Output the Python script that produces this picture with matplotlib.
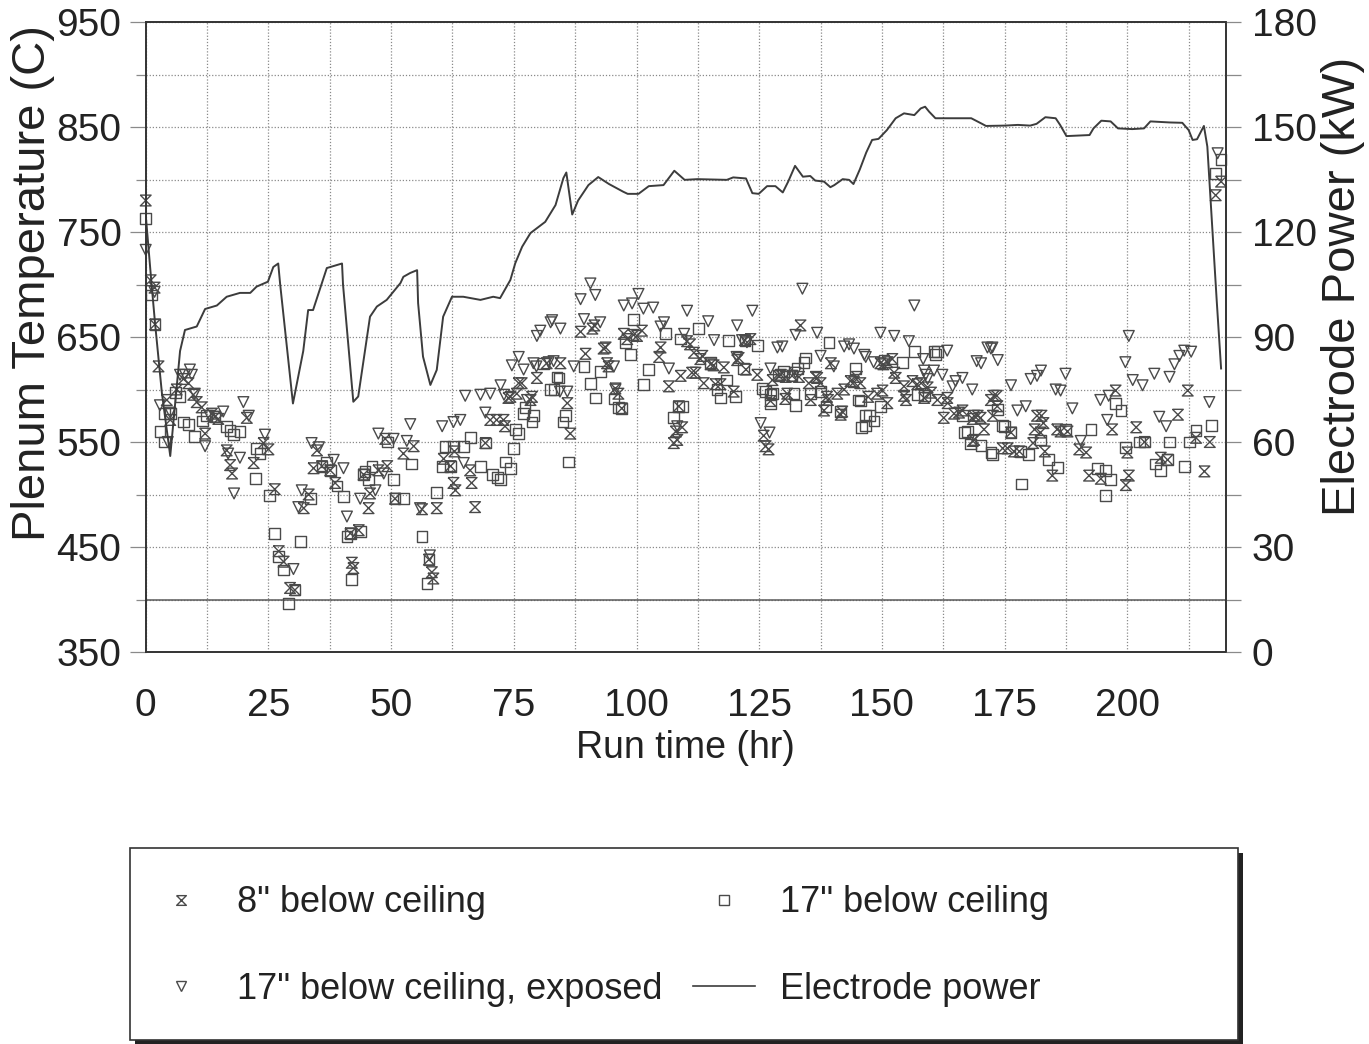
import numpy as np
import matplotlib
matplotlib.use("Agg")
import matplotlib.pyplot as plt
from matplotlib.lines import Line2D
from matplotlib.patches import Rectangle
from matplotlib import font_manager

# ---- data (run time hr, temperature C / power kW) ----
below_8in = [
    (0, 780), (1.0, 704), (1.8, 697), (1.9, 662), (2.6, 622), (4.3, 590), (5.0, 571), (6.3, 600),
    (7.7, 610), (8.7, 606), (9.7, 595), (10.4, 588), (11.4, 583), (12.1, 558), (13.5, 577), (14.1, 574),
    (14.8, 572), (16.5, 542), (17.2, 528), (17.6, 520), (20.6, 573), (22.0, 530), (24.0, 549), (25.0, 543),
    (26.3, 505), (27.1, 446), (28.1, 436), (29.4, 411), (30.4, 409), (32.2, 487), (33.2, 500), (34.2, 525),
    (34.9, 542), (35.9, 527), (37.6, 523), (38.6, 511), (41.7, 463), (42.0, 435), (42.3, 430), (43.4, 466),
    (44.4, 519), (45.4, 487), (45.7, 501), (47.4, 523), (48.8, 553), (49.2, 527), (50.8, 496), (52.5, 539),
    (54.6, 546), (56.3, 486), (57.7, 438), (58.3, 426), (58.6, 420), (59.3, 487), (60.7, 534), (62.1, 527),
    (62.7, 511), (62.9, 541), (63.1, 504), (66.1, 523), (66.4, 511), (67.1, 488), (69.2, 549), (70.2, 571),
    (71.5, 571), (72.9, 571), (73.2, 565), (73.9, 592), (74.3, 593), (75.6, 596), (76.0, 606), (76.6, 606),
    (78.4, 590), (78.7, 593), (79.7, 611), (81.7, 625), (84.5, 625), (85.9, 587), (86.5, 558), (88.6, 655),
    (89.6, 634), (91.0, 658), (91.4, 661), (93.3, 639), (93.7, 640), (94.0, 625), (94.3, 622), (95.7, 601),
    (96.3, 596), (97.0, 582), (97.4, 653), (98.1, 648), (99.4, 652), (100.1, 651), (101.1, 656), (104.6, 631),
    (104.9, 640), (106.6, 603), (107.6, 549), (108.0, 560), (108.3, 552), (108.6, 584), (109.0, 613),
    (109.3, 564), (110.3, 646), (110.9, 643), (111.3, 616), (111.7, 635), (112.0, 616), (113.0, 629),
    (113.4, 632), (113.7, 606), (115.1, 624), (115.7, 623), (116.1, 605), (117.1, 605), (117.8, 621),
    (119.8, 598), (120.5, 628), (120.8, 630), (122.1, 647), (122.3, 619), (123.2, 648), (124.6, 614),
    (125.9, 556), (126.3, 546), (126.9, 543), (127.3, 589), (127.7, 609), (129.0, 613), (129.4, 614),
    (130.3, 591), (130.4, 612), (130.7, 596), (131.7, 613), (133.1, 612), (133.4, 661), (135.1, 606),
    (135.5, 590), (136.5, 612), (136.8, 611), (137.5, 606), (138.2, 580), (138.8, 593), (139.0, 590),
    (139.6, 625), (140.9, 596), (141.6, 576), (141.9, 579), (142.3, 600), (143.6, 608), (144.3, 607),
    (144.9, 612), (145.6, 606), (147.2, 593), (149.0, 596), (149.7, 625), (150.1, 599), (150.3, 624),
    (151.1, 626), (151.1, 587), (152.1, 629), (152.5, 616), (152.8, 611), (154.5, 594), (154.5, 603),
    (154.9, 590), (156.2, 608), (157.2, 605), (158.0, 606), (158.6, 592), (159.3, 602), (160.0, 597),
    (161.3, 590), (162.6, 573), (163.3, 592), (163.4, 587), (164.7, 577), (165.7, 578), (166.4, 580),
    (168.5, 572), (168.5, 551), (168.8, 575), (168.8, 552), (169.5, 575), (170.1, 573), (170.8, 562),
    (172.2, 590), (172.6, 575), (172.8, 594), (173.4, 594), (173.5, 584), (174.6, 544), (175.6, 544),
    (176.3, 559), (176.9, 541), (178.0, 541), (180.8, 549), (181.1, 562), (181.6, 575), (182.3, 559),
    (182.5, 575), (182.9, 568), (183.2, 541), (184.7, 518), (185.7, 562), (186.4, 560), (187.8, 560),
    (190.2, 543), (191.6, 540), (192.2, 518), (194.6, 515), (196.9, 562), (197.6, 599), (199.7, 509),
    (200.0, 540), (200.3, 518), (201.8, 564), (203.5, 550), (206.8, 535), (208.2, 533), (210.3, 576),
    (212.3, 599), (214.0, 554), (215.7, 522), (216.8, 550), (218.0, 785), (219.1, 798),
]

below_17in = [
    (0, 763), (1.2, 690), (1.9, 662), (2.9, 560), (3.9, 550), (3.9, 577), (5.0, 577), (6.0, 597),
    (7.0, 593), (7.7, 569), (8.7, 567), (10.0, 555), (11.5, 570), (12.4, 575), (14.1, 574), (16.5, 565),
    (17.2, 561), (17.9, 557), (19.2, 560), (22.3, 515), (22.6, 544), (23.3, 539), (25.3, 499), (26.3, 463),
    (27.1, 441), (28.1, 428), (29.1, 396), (30.4, 409), (31.5, 455), (33.5, 496), (35.9, 527), (36.9, 531),
    (37.6, 523), (39.0, 508), (40.3, 498), (41.0, 460), (41.7, 463), (42.0, 419), (43.7, 465), (44.4, 519),
    (44.7, 522), (45.4, 514), (46.1, 527), (49.2, 550), (50.5, 514), (50.8, 496), (52.5, 496), (54.2, 529),
    (56.3, 460), (57.3, 415), (57.7, 438), (59.3, 502), (60.4, 527), (61.0, 546), (62.1, 527), (62.7, 546),
    (64.8, 546), (66.1, 554), (68.2, 527), (69.2, 549), (70.7, 519), (71.7, 516), (72.3, 514), (73.3, 531),
    (74.3, 525), (75.0, 544), (75.3, 562), (76.0, 558), (77.0, 577), (77.3, 583), (78.7, 569), (79.0, 575),
    (81.1, 625), (82.5, 600), (83.2, 600), (83.8, 612), (84.2, 611), (85.0, 569), (85.5, 575), (86.1, 531),
    (89.3, 622), (90.6, 606), (91.6, 592), (92.6, 617), (95.4, 591), (96.4, 583), (97.0, 582), (97.8, 645),
    (98.7, 633), (99.4, 667), (101.4, 605), (102.5, 619), (105.9, 653), (107.6, 573), (108.6, 584),
    (109.0, 648), (109.3, 584), (112.7, 658), (115.1, 626), (116.4, 600), (117.1, 592), (118.4, 609),
    (118.8, 647), (120.2, 593), (121.8, 620), (122.1, 647), (124.6, 642), (125.6, 601), (126.3, 598),
    (127.3, 595), (127.3, 587), (127.7, 596), (129.0, 613), (130.0, 617), (131.7, 613), (132.1, 596),
    (132.4, 585), (132.8, 620), (134.1, 626), (134.5, 630), (135.5, 596), (137.5, 598), (138.6, 584),
    (139.2, 645), (141.6, 579), (144.6, 620), (145.3, 590), (145.7, 589), (145.9, 564), (146.6, 575),
    (146.7, 566), (147.4, 575), (148.4, 570), (149.7, 584), (150.4, 628), (154.2, 626), (156.6, 636),
    (157.3, 595), (158.6, 594), (160.6, 636), (160.9, 633), (161.3, 636), (166.4, 575), (166.9, 559),
    (167.4, 560), (168.1, 548), (170.2, 547), (172.2, 540), (172.5, 538), (173.6, 581), (174.6, 566),
    (174.9, 565), (176.3, 559), (178.3, 541), (178.5, 510), (179.9, 538), (182.3, 552), (184.0, 533),
    (185.7, 526), (187.4, 562), (192.6, 562), (193.9, 525), (195.5, 523), (195.6, 499), (196.5, 514),
    (197.6, 587), (198.7, 580), (199.7, 545), (202.5, 550), (203.5, 550), (205.8, 529), (206.8, 523),
    (208.2, 533), (208.6, 550), (211.6, 527), (212.6, 550), (214.0, 561), (217.1, 566), (218.0, 806),
    (219.1, 819),
]

below_17in_exposed = [
    (0, 733), (1.8, 693), (2.9, 585), (4.5, 550), (5.0, 578), (7.0, 614), (8.0, 614), (9.0, 619),
    (9.4, 614), (10.0, 596), (12.1, 546), (13.0, 575), (15.8, 579), (16.8, 539), (18.0, 501), (19.2, 535),
    (19.9, 588), (21.0, 575), (24.3, 557), (30.1, 429), (31.1, 488), (31.8, 504), (33.8, 549), (35.3, 545),
    (38.3, 533), (40.3, 525), (41.0, 479), (43.7, 496), (46.8, 504), (47.4, 558), (48.5, 520), (50.5, 553),
    (53.2, 551), (53.9, 567), (55.9, 487), (57.9, 442), (60.4, 565), (62.7, 569), (64.1, 571), (64.8, 530),
    (65.1, 594), (68.2, 595), (69.2, 578), (70.2, 596), (72.3, 604), (73.0, 595), (74.6, 623), (76.0, 631),
    (77.0, 619), (77.7, 590), (79.0, 625), (79.6, 622), (79.7, 651), (80.4, 656), (82.1, 626), (82.5, 664),
    (82.8, 666), (83.1, 627), (84.4, 598), (84.5, 658), (85.9, 598), (87.2, 622), (88.6, 686), (89.3, 667),
    (90.6, 701), (91.6, 690), (92.6, 664), (95.4, 622), (95.7, 600), (97.4, 680), (99.1, 682), (100.4, 691),
    (101.4, 677), (103.4, 678), (104.9, 660), (105.6, 664), (106.6, 620), (108.3, 565), (109.7, 653),
    (110.3, 675), (114.6, 665), (115.8, 647), (120.4, 631), (120.5, 661), (121.5, 647), (122.5, 645),
    (123.6, 675), (125.3, 568), (127.1, 559), (127.3, 620), (128.7, 640), (129.7, 641), (132.4, 652),
    (132.4, 616), (133.8, 696), (136.8, 654), (137.5, 632), (140.2, 622), (142.3, 641), (143.3, 643),
    (144.3, 639), (146.4, 633), (146.7, 631), (148.3, 626), (149.7, 654), (152.5, 651), (155.5, 646),
    (156.6, 680), (158.4, 629), (158.6, 618), (158.9, 614), (159.3, 610), (160.6, 618), (162.3, 614),
    (163.3, 637), (164.4, 603), (165.0, 608), (166.4, 611), (168.4, 600), (169.3, 627), (170.2, 625),
    (171.5, 640), (172.2, 639), (172.5, 640), (173.6, 628), (176.3, 604), (177.6, 580), (179.3, 584),
    (180.3, 610), (181.6, 613), (182.4, 618), (185.4, 600), (186.4, 599), (187.4, 615), (188.8, 582),
    (190.5, 551), (194.5, 590), (195.9, 571), (196.2, 594), (199.6, 626), (200.3, 651), (201.1, 609),
    (203.1, 604), (205.5, 615), (206.5, 574), (207.9, 565), (208.6, 612), (209.6, 624), (210.6, 632),
    (211.6, 637), (213.0, 636), (216.7, 588), (218.4, 825),
]

electrode_power = [
    (0, 125), (1.2, 105), (1.9, 94), (3.3, 74), (5.0, 56), (7.0, 86), (8.0, 92), (10.4, 93), (12.1, 98),
    (14.5, 99), (16.5, 101.5), (19.2, 102.6), (21.3, 102.6), (22.6, 104.4), (24.9, 105.8), (26.0, 110),
    (27.0, 111), (27.4, 105), (30.0, 71), (32.1, 86), (33.1, 97.7), (34.1, 97.7), (36.9, 109.7),
    (40.0, 111), (40.2, 105), (42.3, 71.5), (43.3, 73), (45.7, 95.8), (47.1, 98.7), (49.1, 100.6),
    (51.9, 105.4), (52.5, 107.2), (53.9, 108.3), (55.3, 109.1), (55.5, 99.7), (56.5, 84.4), (58.0, 76.3),
    (59.3, 80.6), (60.6, 95.8), (62.4, 101.5), (64.7, 101.5), (68.2, 100.6), (70.8, 101.5), (72.2, 101.1),
    (74.3, 106.3), (75.3, 111.1), (76.7, 115.8), (78.4, 119.7), (81.4, 122.9), (83.5, 127.7), (85.1, 135.4),
    (85.7, 137), (86.9, 125), (88.1, 129), (90.2, 133.4), (92.2, 135.7), (94.4, 133.7), (97.3, 131.5),
    (98.2, 130.9), (100.4, 130.9), (102.5, 133.1), (105.5, 133.4), (107.7, 137.5), (109.8, 134.9),
    (112.4, 135.1), (118.4, 134.9), (119.7, 135.6), (122.3, 135.3), (123.6, 131.1), (124.9, 130.9),
    (126.6, 133.1), (128.3, 133.1), (129.8, 131.3), (130.9, 134.4), (132.3, 138.9), (133.9, 135.8),
    (135.4, 136), (136.4, 134.7), (138.2, 134.4), (139.5, 132.8), (140.3, 133.4), (142.0, 135.1),
    (143.3, 134.9), (144.2, 133.7), (145.5, 137.9), (146.8, 142.7), (148.0, 146.3), (149.3, 146.6),
    (151.0, 149.1), (152.8, 152.5), (154.5, 153.9), (156.6, 153.4), (157.9, 155.3), (158.8, 155.8),
    (159.6, 154.4), (160.9, 152.5), (168.2, 152.5), (170.4, 150.9), (171.2, 150.3), (175.1, 150.4),
    (177.7, 150.6), (180.2, 150.4), (181.5, 150.9), (183.3, 152.8), (185.4, 152.5), (186.3, 150.6),
    (187.6, 147.4), (192.3, 147.7), (193.1, 149.6), (194.7, 151.8), (196.6, 151.6), (198.1, 149.6),
    (201.0, 149.4), (203.4, 149.6), (204.7, 151.6), (208.6, 151.3), (211.2, 151.2), (212.5, 149.1),
    (213.3, 146.3), (214.2, 146.5), (215.6, 150.3), (216.3, 144.4), (218.2, 100.6), (219.1, 81),
]

x_ticks = [0, 25, 50, 75, 100, 125, 150, 175, 200]
temp_ticks = [350, 450, 550, 650, 750, 850, 950]
power_ticks = [0, 30, 60, 90, 120, 150, 180]

legend_labels = ['8" below ceiling', '17" below ceiling, exposed',
                 '17" below ceiling', 'Electrode power']

# ---- styling ----
avail = {f.name for f in font_manager.fontManager.ttflist}
if 'Liberation Sans Narrow' in avail:
    hfont, hscale = 'Liberation Sans Narrow', 1.2
else:
    hfont, hscale = 'Liberation Sans', 1.0
plt.rcParams['font.family'] = ['Liberation Sans', 'DejaVu Sans']

mark_col = '#4a4a4a'
line_col = '#3c3c3c'
grid_col = '#8a8a8a'
text_col = '#222222'
hourglass = [(-1, 1), (1, 1), (-1, -1), (1, -1), (-1, 1)]

W, H = 1369, 1044
fig = plt.figure(figsize=(W / 100, H / 100), dpi=100)
left, right, top, bottom = 145.7, 1225.5, 22, 652
ax = fig.add_axes([left / W, 1 - bottom / H, (right - left) / W, (bottom - top) / H])
ax2 = ax.twinx()

h8 = np.array(below_8in)
s17 = np.array(below_17in)
t17 = np.array(below_17in_exposed)
pw = np.array(electrode_power)

kw = dict(s=60, facecolors='none', edgecolors=mark_col, linewidths=1.0, clip_on=False, zorder=3)
ax.scatter(h8[:, 0], h8[:, 1], marker=hourglass, **kw)
ax.scatter(s17[:, 0], s17[:, 1], marker='s', **kw)
ax.scatter(t17[:, 0], t17[:, 1], marker='v', **kw)
ax2.plot(pw[:, 0], pw[:, 1], color=line_col, lw=1.4, zorder=2)

ax.set_xlim(0, 220)
ax.set_ylim(350, 950)
ax2.set_ylim(0, 180)

ax.set_xticks(x_ticks)
ax.set_xticks(np.arange(12.5, 220, 25), minor=True)
ax.set_yticks(temp_ticks)
ax.set_yticks(np.arange(400, 950, 100), minor=True)
ax2.set_yticks(power_ticks)
ax2.set_yticks(np.arange(15, 180, 30), minor=True)

ax.grid(which='both', color=grid_col, linestyle=(0, (1, 1.5)), lw=0.9)
ax.axhline(400, color='#5a5a5a', lw=1.1, zorder=1)
ax.set_axisbelow(True)

for a in (ax, ax2):
    for sp in a.spines.values():
        sp.set_color('#333333')
        sp.set_linewidth(1.2)

ax.tick_params(axis='y', which='major', length=11.5, width=0.9, color=grid_col, pad=6)
ax.tick_params(axis='y', which='minor', length=7, width=0.9, color=grid_col)
ax.tick_params(axis='x', which='both', length=0, pad=26)
ax2.tick_params(axis='y', which='both', length=11, width=0.9, color=grid_col, pad=8)

for lab in ax.get_xticklabels() + ax.get_yticklabels() + ax2.get_yticklabels():
    lab.set_fontfamily(hfont)
    lab.set_fontsize(28 * hscale)
    lab.set_color(text_col)

ax.set_xlabel('Run time (hr)', fontfamily=hfont, fontsize=27 * hscale, color=text_col, va='center')
ax.xaxis.set_label_coords(0.5, (bottom - 748) / (bottom - top))
ax.set_ylabel('Plenum Temperature (C)', fontsize=34, color=text_col, va='center')
ax.yaxis.set_label_coords((33 - left) / (right - left), (bottom - 283) / (bottom - top))
ax2.set_ylabel('Electrode Power (kW)', fontsize=34, color=text_col, va='center', rotation=90)
ax2.yaxis.set_label_coords((1343 - left) / (right - left), (bottom - 286) / (bottom - top))

# legend box with dark shadow, then the legend itself without frame
fig.patches.append(Rectangle((135 / W, 1 - 1044 / H), 1108 / W, 191 / H, transform=fig.transFigure,
                             facecolor='#222222', edgecolor='none', zorder=0))
fig.patches.append(Rectangle((130 / W, 1 - 1040 / H), 1108 / W, 192 / H, transform=fig.transFigure,
                             facecolor='white', edgecolor='#333333', lw=1.2, zorder=1))

mk = dict(linestyle='none', markerfacecolor='none', markeredgecolor=mark_col, markersize=7,
          markeredgewidth=1.0)
handles = [Line2D([], [], marker=hourglass, **mk), Line2D([], [], marker='v', **mk),
           Line2D([], [], marker='s', **mk), Line2D([], [], color=line_col, lw=1.2)]
leg = fig.legend(handles, legend_labels, ncol=2, loc='center left',
                 bbox_to_anchor=(150 / W, 1 - 946 / H), frameon=False,
                 prop={'family': hfont, 'size': 26 * hscale}, handlelength=1.7,
                 handletextpad=0.7, columnspacing=0.87, labelspacing=1.42,
                 borderpad=0, borderaxespad=0)
for t in leg.get_texts():
    t.set_color(text_col)

fig.savefig('out.png', dpi=100)
